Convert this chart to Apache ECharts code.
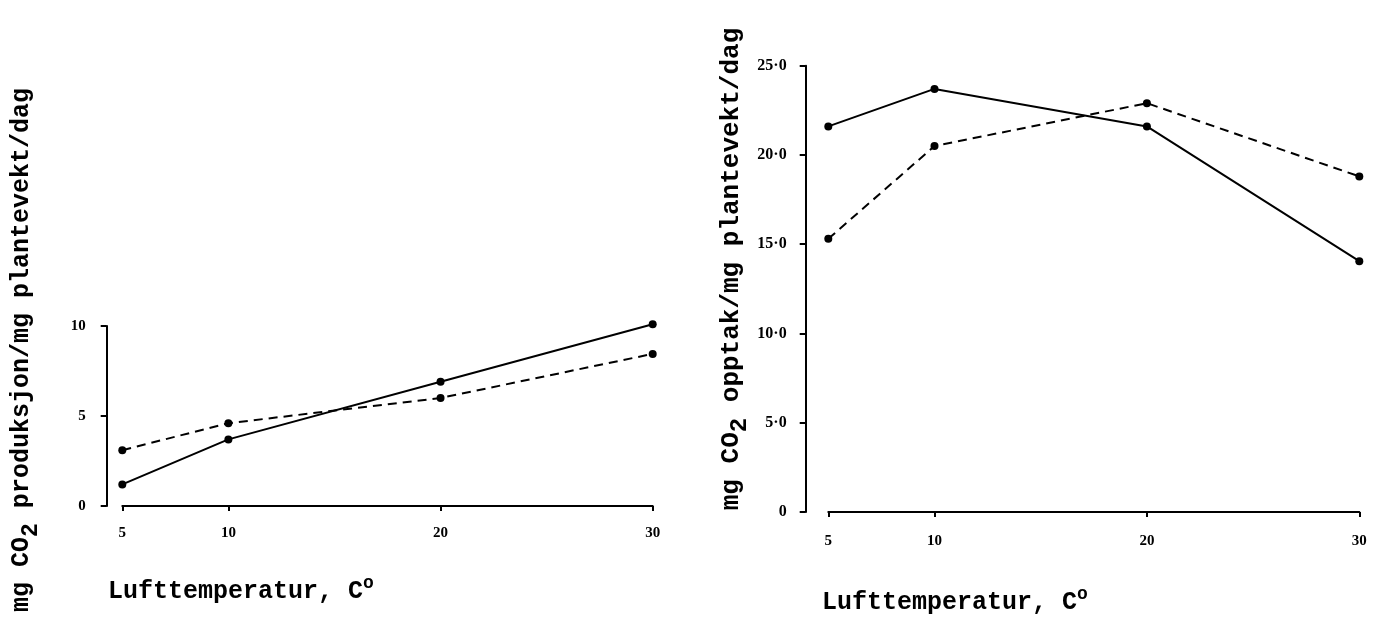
<!DOCTYPE html>
<html>
<head>
<meta charset="utf-8">
<script src="https://cdn.jsdelivr.net/npm/echarts@6/dist/echarts.min.js"></script>
<style>
html,body{margin:0;padding:0;background:#fff;}
#chart{width:1384px;height:620px;}
</style>
</head>
<body>
<div id="chart"></div>
<script>
// Data
var temps = [5, 10, 20, 30];
var xTickLabels = [5, 10, 20, 30];
var prodSolid = [1.2, 3.7, 6.9, 10.1];
var prodDashed = [3.1, 4.6, 6.0, 8.45];
var uptakeSolid = [21.6, 23.7, 21.6, 14.05];
var uptakeDashed = [15.3, 20.5, 22.9, 18.8];
var leftYTicks = [0, 5, 10];
var rightYTicks = [0, 5, 10, 15, 20, 25];

function pairs(ys) { return temps.map(function (t, i) { return [t, ys[i]]; }); }

var serif = '"Liberation Serif", "DejaVu Serif", serif';
var mono = '"Liberation Mono", "DejaVu Sans Mono", monospace';

var axisLineStyle = { color: '#000', width: 2 };

function xAxisDef(gridIndex, offset, margin) {
  return {
    gridIndex: gridIndex, type: 'value', min: 5, max: 30, offset: offset,
    splitLine: { show: false },
    axisLine: { show: true, lineStyle: axisLineStyle },
    axisTick: { show: true, length: 5, lineStyle: { color: '#000', width: 2 }, customValues: xTickLabels },
    axisLabel: { customValues: xTickLabels, margin: margin, color: '#000', fontFamily: serif, fontWeight: 'bold', fontSize: 15 }
  };
}

function yAxisDef(gridIndex, max, offset, margin, ticks, fmt, fs) {
  return {
    gridIndex: gridIndex, type: 'value', min: 0, max: max, interval: 5, offset: offset,
    splitLine: { show: false },
    axisLine: { show: true, lineStyle: axisLineStyle },
    axisTick: { show: true, length: 6, lineStyle: { color: '#000', width: 2 }, customValues: ticks },
    axisLabel: { customValues: ticks, margin: margin, color: '#000', fontFamily: serif, fontWeight: 'bold', fontSize: fs, formatter: fmt }
  };
}

function lineSeries(xi, yi, ys, dashed) {
  return {
    type: 'line', xAxisIndex: xi, yAxisIndex: yi, data: pairs(ys),
    symbol: 'circle', symbolSize: 8, clip: false,
    itemStyle: { color: '#000' },
    lineStyle: { color: '#000', width: 2, type: dashed ? [9, 6] : 'solid' },
    animation: false, silent: true
  };
}

function titleRich(fs) {
  return {
    a: { fontFamily: mono, fontWeight: 'bold', fontSize: fs, fill: '#000' },
    s: { fontFamily: mono, fontWeight: 'bold', fontSize: fs - 2, fill: '#000', padding: [18, 0, 0, 0] },
    o: { fontFamily: mono, fontWeight: 'bold', fontSize: 18, fill: '#000', padding: [0, 0, 17, 0] }
  };
}

var chart = echarts.init(document.getElementById('chart'), null, { renderer: 'canvas' });
chart.setOption({
  backgroundColor: '#fff',
  animation: false,
  grid: [
    { left: 122.3, right: 731.3, top: 326, bottom: 114 },
    { left: 828.3, right: 24.7, top: 65.7, bottom: 108 }
  ],
  xAxis: [xAxisDef(0, 2.5, 17), xAxisDef(1, 1.5, 20)],
  yAxis: [
    yAxisDef(0, 10, 15.6, 21, leftYTicks, function (v) { return String(v); }, 15),
    yAxisDef(1, 25, 22.6, 19, rightYTicks, function (v) { return v === 0 ? '0' : v.toFixed(1).replace('.', '\u00B7'); }, 16)
  ],
  series: [
    lineSeries(0, 0, prodSolid, false),
    lineSeries(0, 0, prodDashed, true),
    lineSeries(1, 1, uptakeSolid, false),
    lineSeries(1, 1, uptakeDashed, true)
  ],
  graphic: [
    { type: 'text', x: 22, y: 350, rotation: Math.PI / 2, silent: true,
      style: { text: '{a|mg CO}{s|2}{a| produksjon/mg plantevekt/dag}', rich: titleRich(25), align: 'center', verticalAlign: 'middle', fill: '#000' } },
    { type: 'text', x: 731, y: 269, rotation: Math.PI / 2, silent: true,
      style: { text: '{a|mg CO}{s|2}{a| opptak/mg plantevekt/dag}', rich: titleRich(26), align: 'center', verticalAlign: 'middle', fill: '#000' } },
    { type: 'text', x: 108, y: 592, silent: true,
      style: { text: '{a|Lufttemperatur, C}{o|o}', rich: titleRich(25), align: 'left', verticalAlign: 'middle', fill: '#000' } },
    { type: 'text', x: 822, y: 603, silent: true,
      style: { text: '{a|Lufttemperatur, C}{o|o}', rich: titleRich(25), align: 'left', verticalAlign: 'middle', fill: '#000' } }
  ]
});
</script>
</body>
</html>
